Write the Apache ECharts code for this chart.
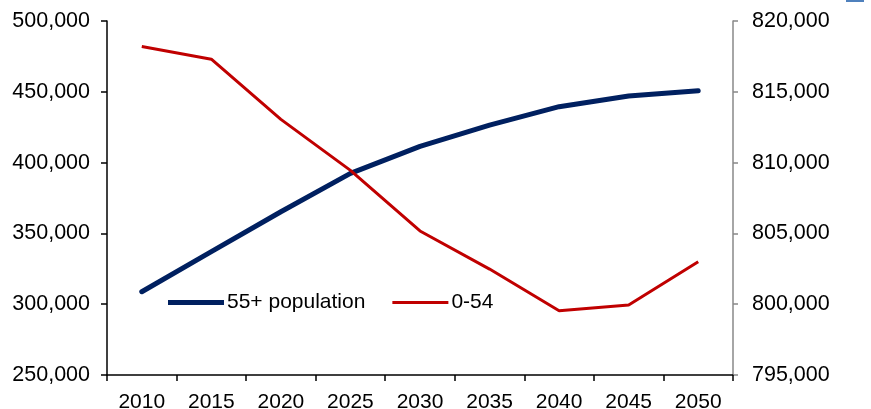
<!DOCTYPE html>
<html>
<head>
<meta charset="utf-8">
<script src="https://cdn.jsdelivr.net/npm/echarts@6/dist/echarts.min.js"></script>
<style>html,body{margin:0;padding:0;background:#fff}#c{width:871px;height:409px}</style>
</head>
<body>
<div id="c"></div>
<script>
const years = ['2010','2015','2020','2025','2030','2035','2040','2045','2050'];
const pop55plus = [308800, 337100, 365300, 392400, 411500, 426500, 439500, 447000, 450800];
const pop0to54 = [818200, 817300, 813050, 809450, 805170, 802480, 799540, 799940, 803000];
const leftTicks = [250000, 500000, 50000];
const rightTicks = [795000, 820000, 5000];

const fmt = v => v.toLocaleString('en-US');
const chart = echarts.init(document.getElementById('c'));
const font = 'Liberation Sans, Arial, sans-serif';
const thickIcon = 'path://M0,0L0.01,0Z M0,14L0.01,14Z M0,4.5H56V9.5H0Z';
const thinIcon = 'path://M0,0L0.01,0Z M0,14L0.01,14Z M0,5.5H56V8.5H0Z';
chart.setOption({
  animation: false,
  backgroundColor: '#fff',
  grid: { left: 107, right: 138, top: 21, bottom: 34, containLabel: false, outerBoundsMode: 'none' },
  legend: {
    data: [
      { name: '55+ population', icon: thickIcon },
      { name: '0-54', icon: thinIcon }
    ],
    left: 163, top: 287,
    itemWidth: 56, itemHeight: 14, itemGap: 27,
    textStyle: { fontFamily: font, fontSize: 21, color: '#000', padding: [0,0,0,-2] }
  },
  xAxis: {
    type: 'category', data: years, boundaryGap: true,
    axisLine: { lineStyle: { color: '#000', width: 1.5 } },
    axisTick: { show: true, length: 6, lineStyle: { color: '#000', width: 1.5 }, alignWithLabel: false },
    axisLabel: { fontFamily: font, fontSize: 21, color: '#000', margin: 17 }
  },
  yAxis: [
    {
      type: 'value', min: leftTicks[0], max: leftTicks[1], interval: leftTicks[2], position: 'left',
      axisLine: { show: true, lineStyle: { color: '#000', width: 1.5 } },
      axisTick: { show: true, length: 6, lineStyle: { color: '#000', width: 1.5 } },
      splitLine: { show: false },
      axisLabel: { fontFamily: font, fontSize: 21.5, color: '#000', margin: 17, formatter: fmt }
    },
    {
      type: 'value', min: rightTicks[0], max: rightTicks[1], interval: rightTicks[2], position: 'right',
      axisLine: { show: true, lineStyle: { color: '#888', width: 1.5 } },
      axisTick: { show: true, length: 5, lineStyle: { color: '#888', width: 1.5 } },
      splitLine: { show: false },
      axisLabel: { fontFamily: font, fontSize: 21.5, color: '#000', margin: 19, formatter: fmt }
    }
  ],
  series: [
    {
      name: '55+ population', type: 'line', yAxisIndex: 0, data: pop55plus,
      symbol: 'none', lineStyle: { color: '#002060', width: 5, cap: 'round' },
      itemStyle: { color: '#002060' }, z: 2
    },
    {
      name: '0-54', type: 'line', yAxisIndex: 1, data: pop0to54,
      symbol: 'none', lineStyle: { color: '#C00000', width: 3 },
      itemStyle: { color: '#C00000' }, z: 3
    }
  ],
  graphic: [
    { type: 'rect', left: 846, top: 0, shape: { width: 18, height: 2 }, style: { fill: '#4f81bd' } }
  ]
});
</script>
</body>
</html>
